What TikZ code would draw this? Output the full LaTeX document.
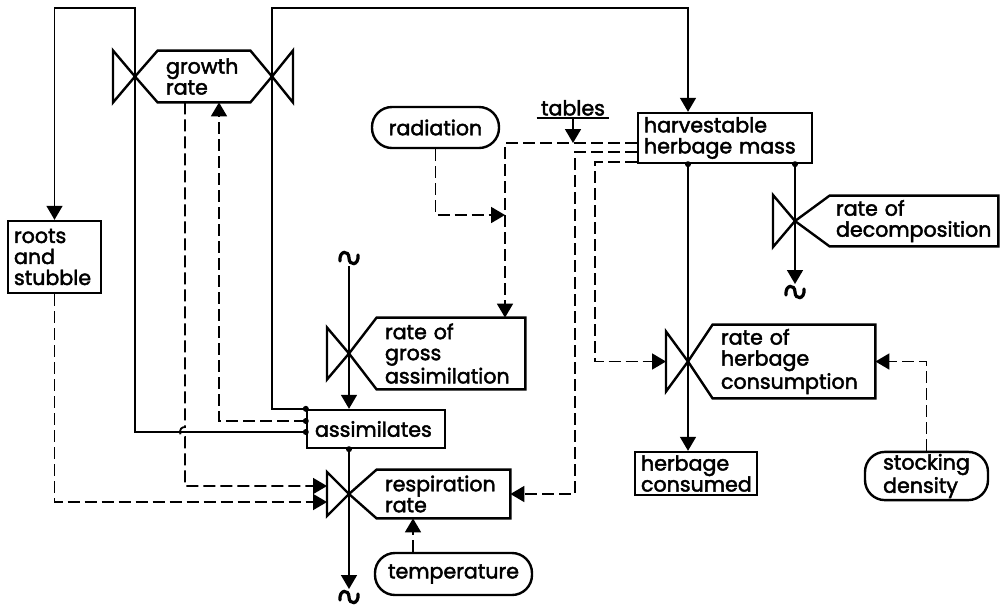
\documentclass[tikz,border=0pt]{standalone}
\usepackage{fontspec}
\setmainfont{Poppins}[FakeBold=2.2]
\usetikzlibrary{arrows.meta}
\tikzset{
  caja/.style={rectangle, draw, line width=1.2pt, align=left, inner xsep=3pt, inner ysep=1pt,
    font=\fontsize{10.3}{10.5}\selectfont},
  pildora/.style={rectangle, rounded corners=10pt, draw, line width=1.2pt, align=left,
    inner sep=1pt, font=\fontsize{10.3}{10.5}\selectfont},
  tasa/.style={rectangle, align=left, inner xsep=4pt, inner ysep=1pt,
    font=\fontsize{10.3}{10.5}\selectfont},
  hexa/.style={draw, line width=1.2pt, line join=miter},
  valvula/.style={draw, line width=1.2pt, line join=miter},
  flujo/.style={line width=0.8pt, -{Triangle[length=7pt,width=8pt]}},
  info/.style={line width=0.9pt, dash pattern=on 6pt off 2.5pt, -{Triangle[length=7pt,width=8pt]}},
  punto/.style={circle, fill, inner sep=0pt, minimum size=3pt},
  nube/.pic={\draw[line width=1.6pt, line cap=round] (-9,3) .. controls (-10,-8) and (0,-8) .. (0,0)
    .. controls (0,8) and (10,8) .. (9,-3);},
}

\begin{document}
\begin{tikzpicture}[x=0.5pt, y=-0.5pt]
  \useasboundingbox (0,0) rectangle (1006,607);

  % levels
  \node[caja, minimum width=46.5pt, minimum height=36pt, text width=40.5pt] (raices) at (54.5,257) {roots\\and\\stubble};
  \node[caja, minimum width=69pt, minimum height=19pt, text width=61pt] (asim) at (376,429) {assimilates};
  \node[caja, minimum width=87pt, minimum height=25pt, text width=81pt] (cosecha) at (725,138) {harvestable\\herbage mass};
  \node[caja, minimum width=59pt, minimum height=21.5pt, text width=55pt] (consumido) at (696,473.5) {herbage\\consumed};

  % auxiliary variables
  \node[pildora, minimum width=63.5pt, minimum height=20.5pt] (radiacion) at (435.5,127.5) {radiation};
  \node[pildora, minimum width=78.5pt, minimum height=21pt] (temperatura) at (453.5,574) {temperature};
  \node[pildora, minimum width=61.5pt, minimum height=24pt] (densidad) at (926.5,476) {stocking\\density};
  \node[font=\fontsize{10.3}{10.5}\selectfont, inner xsep=2pt, inner ysep=1pt, anchor=south] (tablas) at (573,118) {tables};
  \draw[line width=1.2pt] (tablas.south west) -- (tablas.south east);

  % rates
  \node[tasa, minimum width=46pt, minimum height=25.5pt, text width=38pt] (gr) at (204,76.5) {growth\\rate};
  \node[tasa, minimum width=74pt, minimum height=35.5pt, text width=66pt] (ga) at (451,353.5) {rate of\\gross\\assimilation};
  \node[tasa, minimum width=66.5pt, minimum height=24pt, text width=58.5pt] (re) at (443.5,494) {respiration\\rate};
  \node[tasa, minimum width=81pt, minimum height=36.5pt, text width=73pt] (co) at (794,361.5) {rate of\\herbage\\consumption};
  \node[tasa, minimum width=84pt, minimum height=25pt, text width=78pt, inner xsep=3pt] (de) at (914,221) {rate of\\decomposition};

  \coordinate (vgl) at (135,76.5);
  \coordinate (vgr) at (272,76.5);
  \coordinate (vga) at (349,353.5);
  \coordinate (vre) at (349,494);
  \coordinate (vco) at (688,361.5);
  \coordinate (vde) at (795,221);

  \draw[hexa] (vgl) -- (gr.north west) -- (gr.north east) -- (vgr) -- (gr.south east) -- (gr.south west) -- cycle;
  \draw[hexa] (vga) -- (ga.north west) -- (ga.north east) -- (ga.south east) -- (ga.south west) -- cycle;
  \draw[hexa] (vre) -- (re.north west) -- (re.north east) -- (re.south east) -- (re.south west) -- cycle;
  \draw[hexa] (vco) -- (co.north west) -- (co.north east) -- (co.south east) -- (co.south west) -- cycle;
  \draw[hexa] (vde) -- (de.north west) -- (de.north east) -- (de.south east) -- (de.south west) -- cycle;

  \draw[valvula] (vgl) -- ++(-22,-26) -- ++(0,52) -- cycle;
  \draw[valvula] (vgr) -- ++(21,-26) -- ++(0,52) -- cycle;
  \draw[valvula] (vga) -- ++(-22,-26) -- ++(0,52) -- cycle;
  \draw[valvula] (vre) -- ++(-22,-22) -- ++(0,44) -- cycle;
  \draw[valvula] (vco) -- ++(-22,-30) -- ++(0,60) -- cycle;
  \draw[valvula] (vde) -- ++(-22,-26) -- ++(0,52) -- cycle;

  % sources and sinks
  \coordinate (fuente) at (349,266);
  \coordinate (sumidero1) at (349,589);
  \coordinate (sumidero2) at (795,284);
  \pic at (349,258) {nube};
  \pic at (349,597) {nube};
  \pic at (795,292) {nube};

  \coordinate (re1) at (327,486);
  \coordinate (re2) at (327,502);
  \coordinate (coin) at (666,361.5);
  \coordinate (cruce) at (573,143);
  \coordinate (union) at (505,215);

  % material flows
  \draw[flujo] (asim.west |- 0,432) -| (135,8) -| (raices.north);
  \draw[flujo] (asim.north west) -| (272,8) -| (cosecha.north -| 688,0);
  \draw[flujo] (fuente) -- (asim.north -| vga);
  \draw[flujo] (asim.south -| vga) -- (sumidero1);
  \draw[flujo] (cosecha.south -| vco) -- (consumido.north -| vco);
  \draw[flujo] (cosecha.south -| vde) -- (sumidero2);

  % information
  \draw[info] (asim.west |- 0,421) -| (gr.south -| 219,0);
  \draw[info] (gr.south -| 185,0) -- (185,427) .. controls (178,427) and (178,437) .. (185,437) |- (re1);
  \draw[info] (raices.south) |- (re2);
  \draw[info] (cosecha.west |- 0,143) -| (ga.north -| 505,0);
  \draw[info] (tablas.south) -- (cruce);
  \draw[info] (radiacion.south) |- (union);
  \draw[info] (cosecha.west |- 0,152) -| (575,494) -- (re.east);
  \draw[info] (cosecha.west |- 0,162) -| (595,361.5) -- (coin);
  \draw[info] (densidad.north) |- (co.east);
  \draw[info] (temperatura.north -| 413,0) -- (re.south -| 413,0);

  \foreach \p in {(asim.north west), (asim.west |- 0,421), (asim.west |- 0,432),
                  (asim.south -| vga), (cosecha.south -| vco), (cosecha.south -| vde)}
    \node[punto] at \p {};
\end{tikzpicture}
\end{document}
